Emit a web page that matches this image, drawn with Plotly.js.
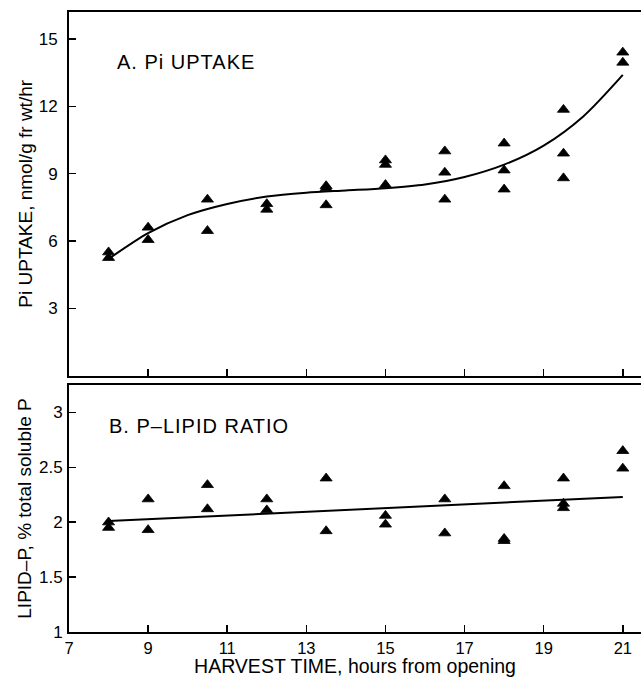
<!DOCTYPE html>
<html>
<head>
<meta charset="utf-8">
<script src="https://cdn.plot.ly/plotly-3.0.1.min.js"></script>
<style>
html, body { margin: 0; padding: 0; background: #fff; }
#chart { width: 641px; height: 677px; }
#chart .annotation-text { letter-spacing: 1px; }
</style>
</head>
<body>
<div id="chart"></div>
<script>
// Panel A: Pi uptake (nmol/g fr wt/hr)
const uptakeHours = [8, 8, 9, 9, 10.5, 10.5, 12, 12, 13.5, 13.5, 13.5, 15, 15, 15, 16.5, 16.5, 16.5, 18, 18, 18, 19.5, 19.5, 19.5, 21, 21];
const uptakeValues = [5.5, 5.25, 6.6, 6.05, 7.85, 6.45, 7.65, 7.4, 8.45, 8.35, 7.6, 9.6, 9.4, 8.5, 10.0, 9.05, 7.85, 10.35, 9.15, 8.3, 11.85, 9.9, 8.8, 14.4, 13.95];
// Fitted curve at whole hours
const uptakeFitHours = [8, 9, 10, 11, 12, 13, 14, 15, 16, 17, 18, 19, 20, 21];
const uptakeFitValues = [5.2, 6.35, 7.15, 7.65, 7.98, 8.15, 8.25, 8.35, 8.52, 8.85, 9.4, 10.25, 11.55, 13.4];

// Panel B: P-lipid ratio (% total soluble P)
const lipidHours = [8, 8, 9, 9, 10.5, 10.5, 12, 12, 13.5, 13.5, 15, 15, 16.5, 16.5, 18, 18, 18, 19.5, 19.5, 19.5, 21, 21];
const lipidValues = [2.0, 1.95, 2.21, 1.93, 2.34, 2.12, 2.21, 2.11, 2.40, 1.92, 2.06, 1.98, 2.21, 1.90, 2.33, 1.85, 1.83, 2.40, 2.17, 2.13, 2.65, 2.49];
const lipidFitHours = [8, 21];
const lipidFitValues = [2.01, 2.23];

// Tick labels
const xTicks = [7, 9, 11, 13, 15, 17, 19, 21];
const uptakeTicks = [3, 6, 9, 12, 15];
const lipidTicks = [1, 1.5, 2, 2.5, 3];
const lipidTickText = ['1', '1.5', '2', '2.5', '3'];

const FONT = 'Liberation Sans, Arial, Helvetica, sans-serif';
const marker = { symbol: 'triangle-up', size: 10.5, color: '#000', line: { color: '#000', width: 0.8 } };

const traces = [
  { x: uptakeFitHours, y: uptakeFitValues, xaxis: 'x', yaxis: 'y', mode: 'lines',
    line: { color: '#000', width: 2, shape: 'spline', smoothing: 0.8 }, hoverinfo: 'skip' },
  { x: uptakeHours, y: uptakeValues, xaxis: 'x', yaxis: 'y', mode: 'markers', marker: marker },
  { x: lipidFitHours, y: lipidFitValues, xaxis: 'x2', yaxis: 'y2', mode: 'lines',
    line: { color: '#000', width: 2 }, hoverinfo: 'skip' },
  { x: lipidHours, y: lipidValues, xaxis: 'x2', yaxis: 'y2', mode: 'markers', marker: marker }
];

const axisCommon = {
  showgrid: false, zeroline: false, showline: true, linecolor: '#000', linewidth: 2,
  ticks: 'inside', ticklen: 7, tickwidth: 1.5, tickcolor: '#000',
  tickfont: { family: FONT, size: 17, color: '#000' }
};

const layout = {
  width: 641, height: 677,
  margin: { l: 69, r: 0, t: 12, b: 45 },
  paper_bgcolor: '#fff', plot_bgcolor: '#fff',
  showlegend: false,
  font: { family: FONT, color: '#000' },
  xaxis: Object.assign({}, axisCommon, {
    domain: [0, 1], anchor: 'y', range: [7, 21.46], tickvals: xTicks,
    showticklabels: false, mirror: true
  }),
  yaxis: Object.assign({}, axisCommon, {
    domain: [0.4135, 1], anchor: 'x', range: [0, 16.2], tickvals: uptakeTicks,
    ticklabelstandoff: 6,
    title: { text: 'Pi UPTAKE, nmol/g fr wt/hr', font: { family: FONT, size: 19, color: '#000' }, standoff: 1 }
  }),
  xaxis2: Object.assign({}, axisCommon, {
    domain: [0, 1], anchor: 'y2', range: [7, 21.46], tickvals: xTicks, mirror: true,
    tickfont: { family: FONT, size: 16.5, color: '#000' },
    title: { text: 'HARVEST TIME, hours from opening', font: { family: FONT, size: 19.5, color: '#000' }, standoff: 6 }
  }),
  yaxis2: Object.assign({}, axisCommon, {
    domain: [0, 0.3984], anchor: 'x2', range: [1, 3.25], tickvals: lipidTicks, ticktext: lipidTickText,
    ticklabelstandoff: 1,
    title: { text: 'LIPID–P, % total soluble P', font: { family: FONT, size: 19, color: '#000' }, standoff: 2 }
  }),
  annotations: [
    { text: 'A. Pi UPTAKE', xref: 'paper', yref: 'paper', x: 0.091, y: 0.92, xanchor: 'left', yanchor: 'middle',
      showarrow: false, font: { family: FONT, size: 20, color: '#000' } },
    { text: 'B. P–LIPID RATIO', xref: 'paper', yref: 'paper', x: 0.081, y: 0.332, xanchor: 'left', yanchor: 'middle',
      showarrow: false, font: { family: FONT, size: 20, color: '#000' } }
  ]
};

Plotly.newPlot('chart', traces, layout, { displayModeBar: false, staticPlot: true });
</script>
</body>
</html>
